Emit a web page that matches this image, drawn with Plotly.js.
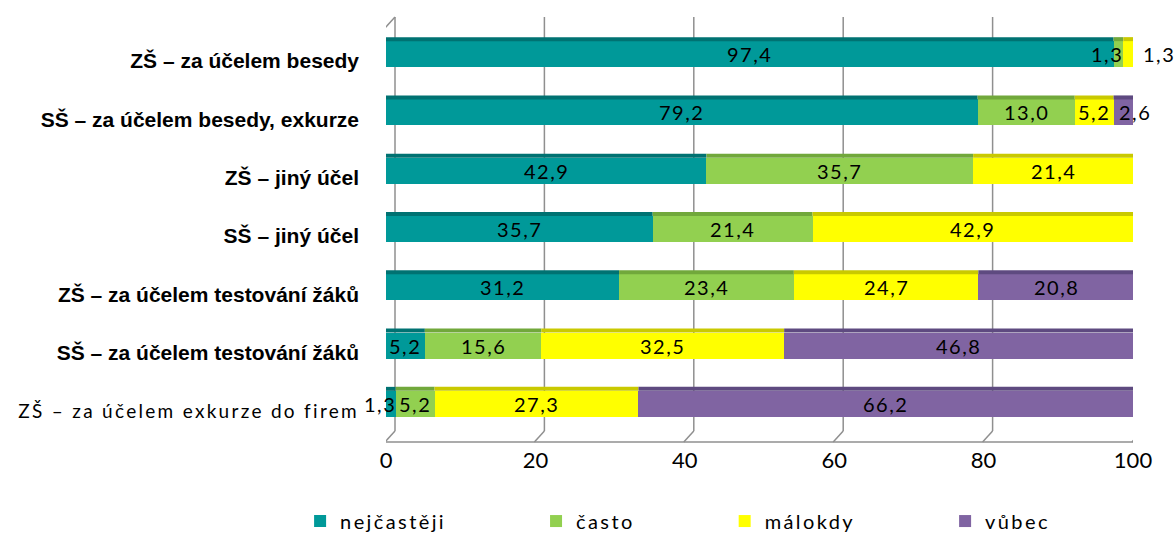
<!DOCTYPE html>
<html><head><meta charset="utf-8">
<script src="https://cdn.plot.ly/plotly-3.0.1.min.js"></script>
<style>html,body{margin:0;padding:0;background:#fff}</style>
</head><body><div id="chart" style="width:1174px;height:535px"></div>
<script>
// ---- data ----
const categories = ["ZŠ – za účelem besedy","SŠ – za účelem besedy, exkurze","ZŠ – jiný účel","SŠ – jiný účel","ZŠ – za účelem testování žáků","SŠ – za účelem testování žáků","ZŠ – za účelem exkurze do firem"];
const seriesNames = ["nejčastěji","často","málokdy","vůbec"];
const nejcasteji = [97.4,79.2,42.9,35.7,31.2,5.2,1.3];
const casto      = [1.3,13.0,35.7,21.4,23.4,15.6,5.2];
const malokdy    = [1.3,5.2,21.4,42.9,24.7,32.5,27.3];
const vubec      = [0,2.6,0,0,20.8,46.8,66.2];
const xTicks = [0,20,40,60,80,100];

// ---- style ----
const series = [nejcasteji, casto, malokdy, vubec];
const colors = ["#009999","#92D050","#FFFF00","#8064A2"];
const topColors = ["#007272","#71A83B","#C9C900","#5E4A80"];
const sideColor = "#45385E";
const outsideLabel = {s:2, r:0};   // label drawn to the right of the bar end
const fmt = v => v.toFixed(1).replace('.', ',');
const labelFont = "Lato, 'Open Sans', sans-serif";
const sp = (t, ls) => '<span style="letter-spacing:' + ls + 'px">' + t + '</span>';
const legendPad = '\u2003\u2003\u2003\u2003\u2003';

const plotTop = 25, plotBottom = 433, plotH = plotBottom - plotTop;
const py = p => (plotBottom - p) / plotH;

const traces = series.map((vals, s) => ({
  type: 'bar', orientation: 'h', name: sp(seriesNames[s], 2.4) + sp(legendPad, 2),
  y: categories, x: vals,
  marker: {color: colors[s], line: {width: 0}},
  hoverinfo: 'skip'
}));

const shapes = [];
const gridCol = '#8f8f8f';
xTicks.forEach(t => {
  shapes.push({type:'line', layer:'below', xref:'x', xsizemode:'pixel', xanchor:t, x0:9, x1:9,
    yref:'paper', y0:py(431), y1:py(17), line:{color:gridCol, width:1.5}});
  shapes.push({type:'line', layer:'below', xref:'x', xsizemode:'pixel', xanchor:t, x0:-1, x1:9,
    yref:'paper', y0:py(442), y1:py(431), line:{color:gridCol, width:1.5}});
});
shapes.push({type:'line', layer:'below', xref:'x', x0:xTicks[0], x1:xTicks[xTicks.length-1],
  yref:'paper', y0:py(442), y1:py(442), line:{color:gridCol, width:1.5}});
shapes.push({type:'line', layer:'below', xref:'x', xsizemode:'pixel', xanchor:0, x0:-1, x1:-1,
  yref:'paper', y0:py(442), y1:py(28), line:{color:gridCol, width:1.5}});
shapes.push({type:'line', layer:'below', xref:'x', xsizemode:'pixel', xanchor:0, x0:-1, x1:9,
  yref:'paper', y0:py(28), y1:py(17), line:{color:gridCol, width:1.5}});

// 3D top faces, end faces and data labels
const annotations = [];
const annFont = {family: labelFont, size: 20, color: '#000'};
const last = series.length - 1;
categories.forEach((c, r) => {
  let cum = 0;
  series.forEach((vals, s) => {
    const v = vals[r];
    if (v > 0) {
      shapes.push({type:'rect', layer:'above', xref:'x', x0:cum, x1:cum+v,
        yref:'y', ysizemode:'pixel', yanchor:c, y0:13, y1:17,
        fillcolor: topColors[s], line:{width:0}});
      const txt = sp(fmt(v), 1.5);
      if (s === outsideLabel.s && r === outsideLabel.r) {
        let end = 0; series.forEach(vv => end += vv[r]);
        annotations.push({xref:'x', yref:'y', x:end, y:c, xanchor:'left', xshift:8,
          text: txt, showarrow:false, font:annFont});
      } else if (v < 3 && s === last) {
        annotations.push({xref:'x', yref:'y', x:cum, y:c, xanchor:'left', xshift:3,
          text: txt, showarrow:false, font:annFont});
      } else if (v < 3) {
        annotations.push({xref:'x', yref:'y', x:cum+v, y:c, xanchor:'right', xshift:2,
          text: txt, showarrow:false, font:annFont});
      } else {
        annotations.push({xref:'x', yref:'y', x:cum+v/2, y:c, xanchor:'center',
          text: txt, showarrow:false, font:annFont});
      }
    }
    cum += v;
  });
  shapes.push({type:'rect', layer:'above', xref:'x', xsizemode:'pixel', xanchor:cum, x0:0, x1:5,
    yref:'y', ysizemode:'pixel', yanchor:c, y0:-13, y1:15,
    fillcolor: sideColor, line:{width:0}});
});

const ticktext = categories.map((c, i) => i < categories.length - 1
  ? '<b>' + c + '</b>'
  : '<span style="font-family:Lato;font-weight:normal;font-size:19px;letter-spacing:2.3px">' + c + '</span>');

const layout = {
  width: 1174, height: 535,
  margin: {l: 386, r: 41, t: plotTop, b: 535 - plotBottom, autoexpand: false},
  paper_bgcolor: '#fff', plot_bgcolor: 'rgba(0,0,0,0)',
  barmode: 'stack', bargap: 0.554,
  showlegend: true,
  xaxis: {range: [0, 100], tickvals: xTicks, ticktext: xTicks.map(String), showgrid: false,
    zeroline: false, showline: false, ticks: '', ticklabelstandoff: 12, automargin: false,
    tickfont: {family: labelFont, size: 22, color: '#000'}, fixedrange: true},
  yaxis: {type: 'category', range: [categories.length - 0.5, -0.5], tickvals: categories, ticktext: ticktext,
    showgrid: false, zeroline: false, showline: false, ticks: '', ticklabelstandoff: 26, ticklabelshift: -7,
    automargin: false,
    tickfont: {family: "'Liberation Sans Narrow', 'Arial Narrow', 'Liberation Sans', sans-serif", size: 21, color: '#000'},
    fixedrange: true},
  legend: {orientation: 'h', x: -0.115, xanchor: 'left', y: -0.168, yanchor: 'top', itemwidth: 30,
    font: {family: labelFont, size: 20, color: '#000'}, traceorder: 'normal'},
  shapes: shapes, annotations: annotations
};

Plotly.newPlot('chart', traces, layout, {displayModeBar: false, staticPlot: true});
</script></body></html>
